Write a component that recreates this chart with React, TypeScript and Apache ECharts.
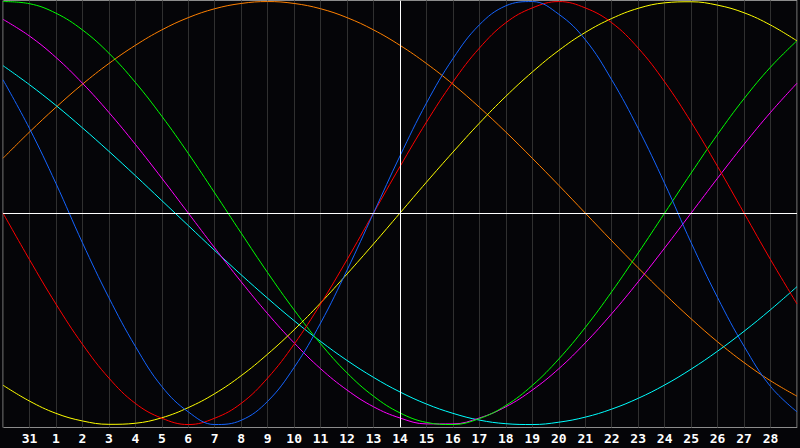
import { useEffect, useRef } from 'react'
import * as echarts from 'echarts'

// x positions: index 0 = left edge, index 15 = today (14), index 30 = right edge
const dayLabels = [
  '', '31', '1', '2', '3', '4', '5', '6', '7', '8', '9', '10', '11', '12', '13', '14',
  '15', '16', '17', '18', '19', '20', '21', '22', '23', '24', '25', '26', '27', '28', '',
]

// values, -1 .. 1
const physical = [
  0.63, 0.40, 0.14, -0.14, -0.40, -0.63, -0.82, -0.94, -1.0, -0.98, -0.89, -0.73, -0.52, -0.27, 0,
  0.27, 0.52, 0.73, 0.89, 0.98, 1.0, 0.94, 0.82, 0.63, 0.40, 0.14, -0.14, -0.40, -0.63, -0.82, -0.94,
]
const emotional = [
  0, -0.22, -0.43, -0.62, -0.78, -0.9, -0.97, -1.0, -0.97, -0.9, -0.78, -0.62, -0.43, -0.22, 0,
  0.22, 0.43, 0.62, 0.78, 0.9, 0.97, 1.0, 0.97, 0.9, 0.78, 0.62, 0.43, 0.22, 0, -0.22, -0.43,
]
const intellectual = [
  1.0, 0.99, 0.945, 0.866, 0.756, 0.618, 0.458, 0.282, 0.095, -0.095, -0.282, -0.458, -0.618, -0.756, -0.866,
  -0.945, -0.99, -1.0, -0.972, -0.91, -0.815, -0.69, -0.541, -0.372, -0.189, 0, 0.189, 0.372, 0.541, 0.69, 0.815,
]
const intuitive = [
  0.916, 0.837, 0.736, 0.614, 0.476, 0.325, 0.165, 0, -0.165, -0.325, -0.476, -0.614, -0.736, -0.837, -0.916,
  -0.969, -0.997, -0.997, -0.969, -0.916, -0.837, -0.736, -0.614, -0.476, -0.325, -0.165, 0, 0.165, 0.325, 0.476, 0.614,
]
const aesthetic = [
  -0.814, -0.889, -0.947, -0.983, -0.999, -0.994, -0.968, -0.92, -0.854, -0.769, -0.667, -0.552, -0.425, -0.288, -0.146,
  0, 0.146, 0.288, 0.425, 0.552, 0.667, 0.769, 0.854, 0.92, 0.968, 0.994, 0.999, 0.983, 0.947, 0.889, 0.814,
]
const awareness = [
  0.259, 0.383, 0.5, 0.609, 0.707, 0.793, 0.866, 0.924, 0.966, 0.991, 1.0, 0.991, 0.966, 0.924, 0.866,
  0.793, 0.707, 0.609, 0.5, 0.383, 0.259, 0.131, 0, -0.131, -0.259, -0.383, -0.5, -0.609, -0.707, -0.793, -0.866,
]
const spiritual = [
  0.697, 0.607, 0.509, 0.403, 0.292, 0.177, 0.059, -0.059, -0.177, -0.292, -0.403, -0.509, -0.607, -0.697, -0.777,
  -0.846, -0.903, -0.947, -0.979, -0.996, -1.0, -0.989, -0.965, -0.927, -0.876, -0.813, -0.738, -0.653, -0.559, -0.457, -0.348,
]

const cycles = [
  { name: 'Awareness', data: awareness, color: '#ff8000' },
  { name: 'Spiritual', data: spiritual, color: '#00ffff' },
  { name: 'Intuitive', data: intuitive, color: '#ff00ff' },
  { name: 'Intellectual', data: intellectual, color: '#00ff00' },
  { name: 'Aesthetic', data: aesthetic, color: '#ffff00' },
  { name: 'Emotional', data: emotional, color: '#ff0000' },
  { name: 'Physical', data: physical, color: '#1464ff' },
]

export default function App() {
  const ref = useRef<HTMLDivElement>(null)

  useEffect(() => {
    if (!ref.current) return
    const chart = echarts.init(ref.current, undefined, { renderer: 'svg' })

    const option: echarts.EChartsOption = {
      animation: false,
      backgroundColor: '#050508',
      grid: {
        left: 0.5,
        right: 0.5,
        top: 0.5,
        bottom: 20.5,
        show: true,
        borderColor: '#8c8c8c',
        borderWidth: 1,
        backgroundColor: 'transparent',
      },
      xAxis: {
        type: 'category',
        data: dayLabels,
        boundaryGap: false,
        axisLine: { show: false },
        axisTick: { show: false },
        axisLabel: {
          interval: 0,
          color: '#ffffff',
          fontSize: 13,
          fontWeight: 'bold',
          fontFamily: 'DejaVu Sans Mono',
          margin: 4,
        },
        splitLine: { show: true, interval: 0, lineStyle: { color: '#303030', width: 1 } },
      },
      yAxis: {
        type: 'value',
        min: -1.014,
        max: 1.005,
        show: false,
        splitLine: { show: false },
      },
      series: [
        ...cycles.map((c) => ({
          name: c.name,
          type: 'line' as const,
          data: c.data,
          smooth: 0.4,
          symbol: 'none',
          lineStyle: { color: c.color, width: 1 },
          silent: true,
        })),
        {
          name: 'axes',
          type: 'line' as const,
          data: [],
          symbol: 'none',
          silent: true,
          markLine: {
            silent: true,
            symbol: 'none',
            label: { show: false },
            lineStyle: { color: '#ffffff', width: 1, type: 'solid' },
            data: [{ yAxis: 0 }, { xAxis: 15 }],
          },
        },
      ],
    }

    chart.setOption(option)
    return () => chart.dispose()
  }, [])

  return (
    <div
      ref={ref}
      style={{ position: 'absolute', left: 0, top: 0, width: 800, height: 448, background: '#050508' }}
    />
  )
}
